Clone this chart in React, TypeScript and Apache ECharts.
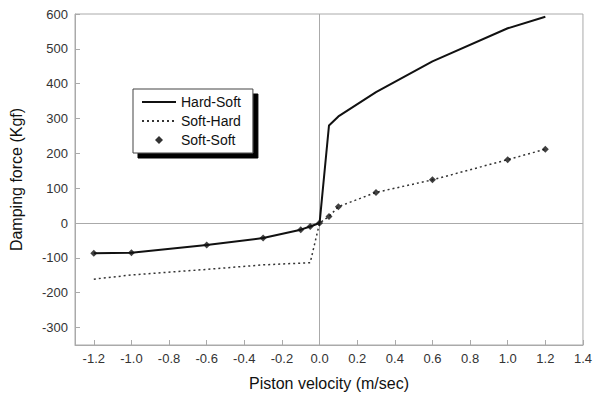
import React, { useEffect, useRef } from "react";
import * as echarts from "echarts";

const xTicks = [-1.2, -1.0, -0.8, -0.6, -0.4, -0.2, 0.0, 0.2, 0.4, 0.6, 0.8, 1.0, 1.2, 1.4];
const yTicks = [-300, -200, -100, 0, 100, 200, 300, 400, 500, 600];

const hardSoft: [number, number][] = [
  [-1.2, -87], [-1.0, -85], [-0.6, -63], [-0.3, -43], [-0.1, -19], [-0.05, -10], [0, 0],
  [0.05, 280], [0.1, 306], [0.3, 376], [0.6, 464], [1.0, 559], [1.2, 592],
];
const softHard: [number, number][] = [
  [-1.2, -161], [-1.0, -149], [-0.6, -133], [-0.3, -120], [-0.1, -115], [-0.05, -114], [0, 0],
  [0.05, 19], [0.1, 47], [0.3, 88], [0.6, 124], [1.0, 182], [1.2, 212],
];
const softSoft: [number, number][] = [
  [-1.2, -87], [-1.0, -85], [-0.6, -63], [-0.3, -43], [-0.1, -19], [-0.05, -10], [0, 0],
  [0.05, 19], [0.1, 47], [0.3, 88], [0.6, 124], [1.0, 182], [1.2, 212],
];

const FONT = "Liberation Sans, Arial, sans-serif";

export default function App() {
  const ref = useRef<HTMLDivElement>(null);
  useEffect(() => {
    if (!ref.current) return;
    const chart = echarts.init(ref.current, undefined, { renderer: "svg" });
    chart.setOption({
      animation: false,
      backgroundColor: "#fff",
      textStyle: { fontFamily: FONT },
      grid: {
        left: 75, right: 10, top: 14, bottom: 48,
        show: true, borderColor: "#aaa", borderWidth: 1, backgroundColor: "transparent",
      },
      legend: {
        orient: "vertical",
        left: 133,
        top: 89,
        padding: [6, 12, 6, 8],
        itemWidth: 34,
        itemHeight: 8,
        itemGap: 5,
        borderColor: "#444",
        borderWidth: 1,
        backgroundColor: "#fff",
        shadowColor: "#000",
        shadowBlur: 0,
        shadowOffsetX: 5,
        shadowOffsetY: 5,
        textStyle: { fontSize: 14, color: "#111", fontFamily: FONT },
        data: [
          { name: "Hard-Soft", itemStyle: { color: "transparent", borderWidth: 0 } },
          { name: "Soft-Hard", itemStyle: { color: "transparent", borderWidth: 0 } },
          { name: "Soft-Soft", icon: "path://M0,-1L1,0L0,1L-1,0Z", itemStyle: { color: "#000" } },
        ],
      },
      xAxis: {
        type: "value",
        min: -1.3,
        max: 1.4,
        axisLine: { onZero: false, lineStyle: { color: "#aaa" } },
        axisTick: { inside: true, length: 5, lineStyle: { color: "#aaa" }, customValues: xTicks },
        axisLabel: {
          customValues: xTicks,
          formatter: (v: number) => v.toFixed(1),
          color: "#333", fontSize: 13, margin: 7, fontFamily: FONT,
        },
        splitLine: { show: false },
        name: "Piston velocity (m/sec)",
        nameLocation: "middle",
        nameGap: 30,
        nameTextStyle: { fontSize: 16, color: "#111", fontFamily: FONT },
      },
      yAxis: {
        type: "value",
        min: -350,
        max: 600,
        axisLine: { onZero: false, lineStyle: { color: "#aaa" } },
        axisTick: { inside: true, length: 5, lineStyle: { color: "#aaa" }, customValues: yTicks },
        axisLabel: {
          customValues: yTicks,
          color: "#333", fontSize: 13, margin: 7, fontFamily: FONT,
        },
        splitLine: { show: false },
        name: "Damping force (Kgf)",
        nameLocation: "middle",
        nameGap: 51,
        nameRotate: 90,
        nameTextStyle: { fontSize: 16, color: "#111", fontFamily: FONT },
      },
      series: [
        {
          name: "Hard-Soft",
          type: "line",
          data: hardSoft,
          symbol: "none",
          lineStyle: { color: "#111", width: 2 },
          itemStyle: { color: "#111" },
          z: 3,
          markLine: {
            silent: true,
            symbol: "none",
            label: { show: false },
            lineStyle: { color: "#aaa", type: "solid", width: 1 },
            data: [{ xAxis: 0 }, { yAxis: 0 }],
            z: 1,
          },
        },
        {
          name: "Soft-Hard",
          type: "line",
          data: softHard,
          symbol: "none",
          lineStyle: { color: "#333", width: 1.5, type: [2, 3] },
          itemStyle: { color: "#333" },
          z: 3,
        },
        {
          name: "Soft-Soft",
          type: "scatter",
          data: softSoft,
          symbol: "diamond",
          symbolSize: 7,
          itemStyle: { color: "#111" },
          z: 4,
        },
      ],
    });
    return () => chart.dispose();
  }, []);
  return <div ref={ref} style={{ width: 595, height: 396, position: "absolute", left: 0, top: 0 }} />;
}
